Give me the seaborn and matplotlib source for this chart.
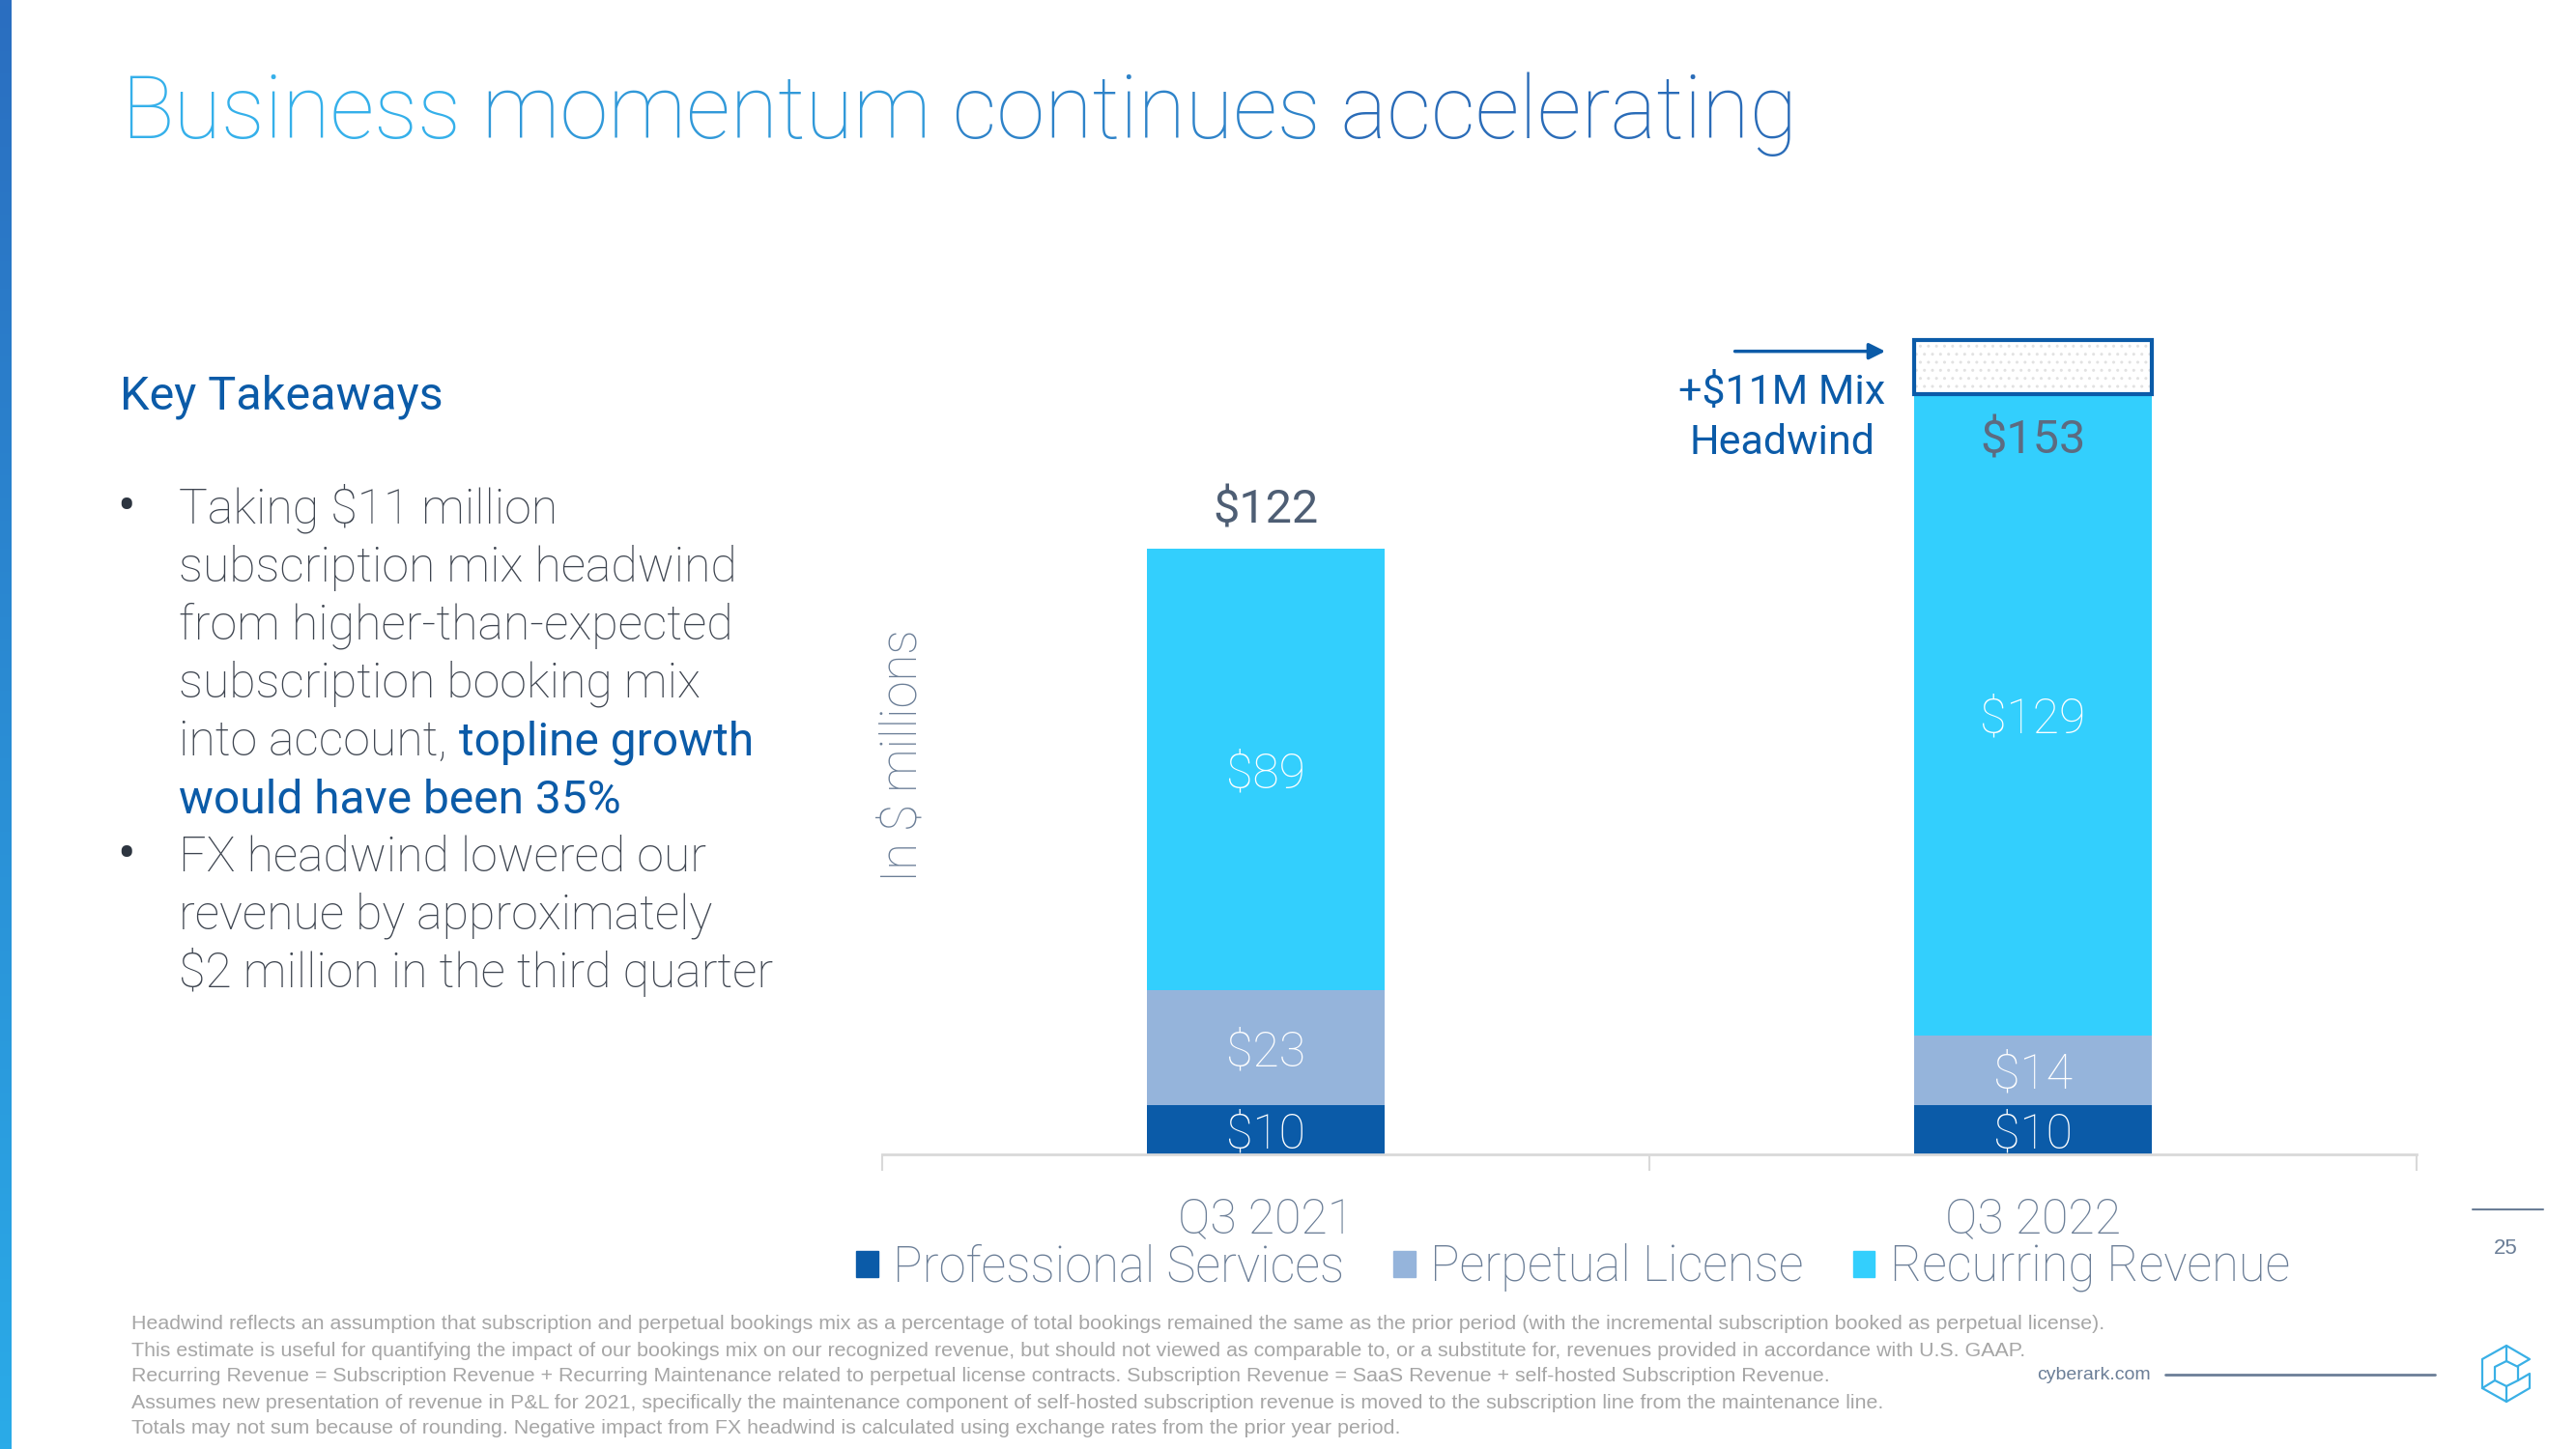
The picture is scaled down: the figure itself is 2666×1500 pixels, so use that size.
import numpy as np
import pandas as pd
import matplotlib
matplotlib.use("Agg")
import matplotlib.pyplot as plt
from matplotlib.patches import Patch
from matplotlib.colors import LinearSegmentedColormap
import seaborn as sns

# ---- data ----
quarters = ["Q3 2021", "Q3 2022"]
professional_services = [10, 10]
perpetual_license = [23, 14]
recurring_revenue = [89, 129]
totals = [122, 153]
mix_headwind = 11
series_names = ["Professional Services", "Perpetual License", "Recurring Revenue"]

title = "Business momentum continues accelerating"
bullet_lines = [
    "Taking $11 million",
    "subscription mix headwind",
    "from higher-than-expected",
    "subscription booking mix",
    "into account,",
    "",
    "FX headwind lowered our",
    "revenue by approximately",
    "$2 million in the third quarter",
]
footnotes = [
    "Headwind reflects an assumption that subscription and perpetual bookings mix as a percentage of total bookings remained the same as the prior period (with the incremental subscription booked as perpetual license).",
    "This estimate is useful for quantifying the impact of our bookings mix on our recognized revenue, but should not viewed as comparable to, or a substitute for, revenues provided in accordance with U.S. GAAP.",
    "Recurring Revenue = Subscription Revenue + Recurring Maintenance related to perpetual license contracts. Subscription Revenue = SaaS Revenue + self-hosted Subscription Revenue.",
    "Assumes new presentation of revenue in P&L for 2021, specifically the maintenance component of self-hosted subscription revenue is moved to the subscription line from the maintenance line.",
    "Totals may not sum because of rounding. Negative impact from FX headwind is calculated using exchange rates from the prior year period.",
]

DARK = "#0b5ba8"
PERP = "#95b4db"
RECUR = "#33cffd"
SLATE = "#6b7e97"
BODY = "#3e4550"
TOTAL = "#4e5e74"
FOOT = "#a6a6a6"

sns.set_theme(style="white")
plt.rcParams["font.family"] = ["Roboto", "DejaVu Sans"]
plt.rcParams["hatch.linewidth"] = 1.0

fig = plt.figure(figsize=(26.66, 15), dpi=100)

# background layer in pixel coordinates (y down)
bg = fig.add_axes([0, 0, 1, 1], zorder=0)
grad = np.linspace(0, 1, 256).reshape(-1, 1)
edge_cmap = LinearSegmentedColormap.from_list("edge", ["#2b6ec0", "#2aabe8"])
bg.imshow(grad, cmap=edge_cmap, extent=[0, 12, 1500, 0], aspect="auto")
bg.set_xlim(0, 2666)
bg.set_ylim(1500, 0)
bg.axis("off")

# title, word by word for the blue gradient
words = title.split(" ")
word_cols = sns.blend_palette(["#35b0ea", "#2a6cb8"], len(words))
prev = bg.text(125, 143, words[0], fontsize=65, weight="light", color=word_cols[0], va="baseline")
for w, c in zip(words[1:], word_cols[1:]):
    prev = bg.annotate(" " + w, xy=(1, 0), xycoords=prev, va="bottom", ha="left",
                       fontsize=65, weight="light", color=c)

# key takeaways
bg.text(124, 423, "Key Takeaways", fontsize=35, color=DARK, va="baseline")
for i, line in enumerate(bullet_lines):
    y = 542 + 60 * i
    if i in (0, 6):
        bg.text(131, y, "\u2022", fontsize=40, color="#2d3540", va="baseline", ha="center")
    if line:
        t = bg.text(185, y, line, fontsize=36, weight="light", color=BODY, va="baseline")
        if i == 4:
            bg.annotate(" topline growth", xy=(1, 0), xycoords=t, va="bottom", ha="left",
                        fontsize=34.5, color=DARK)
    elif i == 5:
        bg.text(185, y, "would have been 35%", fontsize=34.5, color=DARK, va="baseline")

# footnotes
for i, line in enumerate(footnotes):
    bg.text(136, 1371 + 27 * i, line, fontsize=15.4, color=FOOT, va="center",
            family=["Liberation Sans", "DejaVu Sans"])

bg.text(2108, 1423, "cyberark.com", fontsize=14, color=SLATE, va="center",
        family=["Liberation Sans", "DejaVu Sans"])
bg.plot([2241, 2520], [1423, 1423], color=SLATE, lw=2)
bg.plot([2559, 2632], [1252, 1252], color=SLATE, lw=1.5)
bg.text(2593, 1292, "25", fontsize=16, color=SLATE, va="center", ha="center",
        family=["Liberation Sans", "DejaVu Sans"])

# small cube logo
cx, cy = 2594, 1422
logo_paths = [
    [(12, -8), (24, -15), (0, -29), (-25, -15), (-25, 15), (0, 29), (24, 15), (24, 0), (12, 7)],
    [(0, -13), (12, -7), (12, 7), (0, 13), (-12, 7), (-12, -7), (0, -13)],
    [(0, -29), (0, -13)],
    [(0, 13), (0, 29)],
    [(-12, 7), (-25, 15)],
]
for p in logo_paths:
    xs = [cx + a for a, b in p]
    ys = [cy + b for a, b in p]
    bg.plot(xs, ys, color="#3ab0e6", lw=1.6)
bg.set_xlim(0, 2666)
bg.set_ylim(1500, 0)

# ---- chart ----
ax = fig.add_axes([913 / 2666, 305 / 1500, 1588 / 2666, 874 / 1500], zorder=2)
ax.patch.set_alpha(0)

df = pd.DataFrame({
    "quarter": quarters,
    "ps": professional_services,
    "pl": perpetual_license,
    "rr": recurring_revenue,
})
df["ps_pl"] = df["ps"] + df["pl"]
df["all"] = df["ps_pl"] + df["rr"]

for col, color in [("all", RECUR), ("ps_pl", PERP), ("ps", DARK)]:
    sns.barplot(data=df, x="quarter", y=col, color=color, width=0.31, saturation=1,
                errorbar=None, linewidth=0, ax=ax)

# headwind box on top of Q3 2022
ax.bar(1, mix_headwind, bottom=totals[1], width=0.31, color="white", hatch="..",
       edgecolor="#e2e2e2", linewidth=0, zorder=3)
ax.bar(1, mix_headwind, bottom=totals[1], width=0.31, fill=False, edgecolor=DARK,
       linewidth=3, zorder=4)
ax.annotate("", xy=(0.811, 161.7), xytext=(0.608, 161.7),
            arrowprops=dict(arrowstyle="-|>", color=DARK, lw=2.5, mutation_scale=25))
ax.text(0.673, 148.3, "+$11M Mix\nHeadwind", ha="center", va="center", fontsize=31,
        color=DARK, linespacing=1.35)

# segment labels
for i in range(len(quarters)):
    bottom = 0
    for v in [professional_services[i], perpetual_license[i], recurring_revenue[i]]:
        ax.text(i, bottom + v / 2 - 1.0, f"${v}", ha="center", va="center", color="white",
                fontsize=36, weight="light")
        bottom += v

ax.text(0, totals[0] + 7.6, f"${totals[0]}", ha="center", va="center", fontsize=35, color=TOTAL)
ax.text(1, totals[1] - 9.3, f"${totals[1]}", ha="center", va="center", fontsize=35, color="#5d6b80")

sns.despine(ax=ax, left=True)
ax.spines["bottom"].set_color("#d9d9d9")
ax.spines["bottom"].set_linewidth(2)
ax.set_ylim(0, 170)
ax.set_xlim(-0.5, 1.5)
ax.set_yticks([])
ax.set_xticks([0, 1], quarters)
ax.set_xticks([-0.5, 0.5, 1.5], minor=True)
ax.tick_params(axis="x", which="major", length=0, pad=31, labelsize=36, labelcolor=SLATE)
ax.tick_params(axis="x", which="minor", bottom=True, length=12, width=1.5, color="#d9d9d9")
for lbl in ax.get_xticklabels():
    lbl.set_fontweight("light")
ax.set_xlabel("")
ax.set_ylabel("In $ millions", fontsize=36.5, color=SLATE, weight="light")
ax.yaxis.set_label_coords(0.029, 0.4725)

handles = [Patch(color=c) for c in [DARK, PERP, RECUR]]
fig.legend(handles, series_names, loc="center", bbox_to_anchor=(0.6107, 0.1250), ncol=3,
           frameon=False, prop={"size": 36.5, "weight": "light"}, labelcolor=SLATE,
           handlelength=0.45, handleheight=0.45, handletextpad=0.3, columnspacing=1.0,
           borderpad=0)

fig.savefig("out.png", dpi=100)
